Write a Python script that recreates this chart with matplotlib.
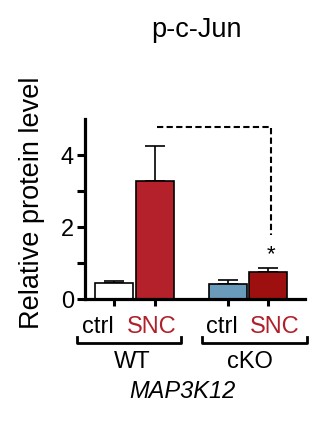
import matplotlib
matplotlib.use("Agg")
import matplotlib.pyplot as plt
from matplotlib.lines import Line2D

plt.rcParams['font.family'] = ['Liberation Sans', 'DejaVu Sans']

categories = ["ctrl", "SNC", "ctrl", "SNC"]
groups = ["WT", "cKO"]
means = [0.44, 3.28, 0.42, 0.76]
errors = [0.07, 0.98, 0.10, 0.09]
positions = [0, 1, 2.78, 3.76]
colors = ["#FFFFFF", "#B5212B", "#6B9BBA", "#9E1010"]
label_colors = ["#000000", "#B0202A", "#000000", "#B0202A"]
yticks_major = [0, 2, 4]

W, H = 329, 421
fig = plt.figure(figsize=(W / 100, H / 100), dpi=100)

def fx(px):
    return px / W

def fy(py):
    return 1 - py / H

ax = fig.add_axes([fx(85), fy(299), fx(305) - fx(85), fy(119) - fy(299)])
ax.bar(positions, means, width=0.94, color=colors, edgecolor="black", linewidth=1.2, zorder=2)
ax.errorbar(positions, means, yerr=[[0] * 4, errors], fmt="none", ecolor="black",
            elinewidth=1.2, capsize=7.5, capthick=1.2, zorder=1)

ax.set_ylim(0, 5)
ax.set_xlim(-0.707, 4.66)
ax.set_yticks(yticks_major)
ax.set_yticks([1, 3], minor=True)
ax.set_xticks(positions)
ax.set_xticklabels([])
for s in ["top", "right"]:
    ax.spines[s].set_visible(False)
for s in ["left", "bottom"]:
    ax.spines[s].set_linewidth(2.3)
ax.tick_params(axis="y", which="both", length=6, width=2.2, labelsize=17, pad=2)
ax.tick_params(axis="x", length=5, width=2.2)

# significance dashed bracket
ax.plot([1.05, 3.83, 3.83], [4.78, 4.78, 1.78], color="black", linestyle=(0, (3, 1.6)),
        linewidth=1.5, clip_on=False)
ax.text(3.83, 1.22, "*", ha="center", va="center", fontsize=16)

# category labels
label_x_px = [98, 152, 222, 275]
for lx, lab, c in zip(label_x_px, categories, label_colors):
    fig.text(fx(lx), fy(327), lab, ha="center", va="center", fontsize=17, color=c)

# group brackets
for x0, x1 in [(77, 181), (202, 307)]:
    fig.add_artist(Line2D([fx(x0), fx(x0), fx(x1), fx(x1)],
                          [fy(337), fy(343), fy(343), fy(337)],
                          color="black", linewidth=2.0, transform=fig.transFigure))
fig.text(fx(132), fy(362), groups[0], ha="center", va="center", fontsize=17)
fig.text(fx(250), fy(362), groups[1], ha="center", va="center", fontsize=17)
fig.text(fx(182), fy(392), "MAP3K12", ha="center", va="center", fontsize=17, style="italic")

fig.text(fx(196), fy(30), "p-c-Jun", ha="center", va="center", fontsize=19.5)
fig.text(fx(32), fy(203), "Relative protein level", ha="center", va="center",
         rotation=90, fontsize=19.5)

fig.savefig("out.png", dpi=100)
